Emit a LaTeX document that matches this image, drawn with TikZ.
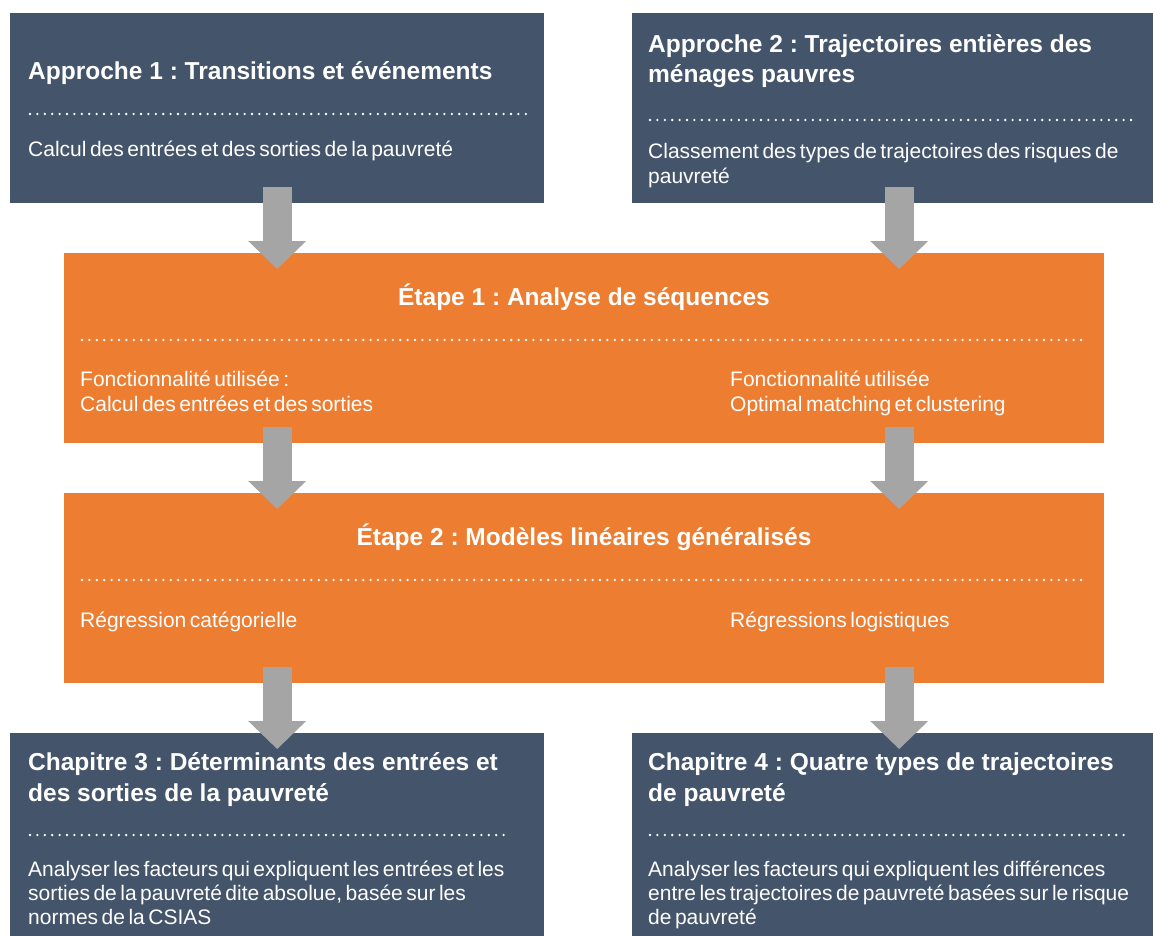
\documentclass[tikz,border=0pt]{standalone}
\usepackage{fontspec}
\setmainfont{Liberation Sans}
\newfontfamily\corpsfont{Liberation Sans}[WordSpace=0.6]
\usetikzlibrary{arrows.meta}
\usetikzlibrary{calc,positioning}
\definecolor{ardoise}{HTML}{44546A}
\definecolor{orangeetape}{HTML}{ED7D31}
\definecolor{gris}{HTML}{A5A5A5}
\frenchspacing

\begin{document}
\begin{tikzpicture}[x=1pt, y=-1pt,
	caja/.style={fill=ardoise, anchor=north west, minimum width=534pt, minimum height=190pt, inner sep=0pt},
	etape/.style={fill=orangeetape, anchor=north west, minimum width=1040pt, minimum height=190pt, inner sep=0pt},
	titre/.style={text=white, anchor=base west, inner sep=0pt, font=\bfseries\fontsize{24.5}{30}\selectfont},
	corps/.style={text=white, anchor=base west, inner sep=0pt, font=\corpsfont\fontsize{21}{24}\selectfont},
	points/.style={white, line width=2.6pt, line cap=round, dash pattern=on 0pt off 7.4pt},
	fleche/.style={gris, line width=29pt, -{Triangle[width=58pt,length=28pt,line width=0pt]}}]

	\useasboundingbox (0,0) rectangle (1153,936);
	\clip (0,0) rectangle (1153,936);

% approche 1
	\node[caja] (ap1) at (10,13) {};
	\node[titre] (ap1t) at (28,80) {Approche 1 : Transitions et événements};
	\draw[points] (30,114) -- (530,114);
	\node[corps] (ap1c) at (28,157) {Calcul des entrées et des sorties de la pauvreté};

% approche 2
	\node[caja] (ap2) at (632,13) {};
	\foreach \t [count=\i from 0] in {Approche 2 : Trajectoires entières des, ménages pauvres}
		\node[titre] (ap2t\i) at (648,53+30*\i) {\t};
	\draw[points] (650,120) -- (1137,120);
	\foreach \t [count=\i from 0] in {Classement des types de trajectoires des risques de, pauvreté}
		\node[corps] (ap2c\i) at (648,159+25*\i) {\t};

% etape 1
	\node[etape] (e1) at (64,253) {};
	\node[titre, anchor=base] (e1t) at (584,305) {Étape 1 : Analyse de séquences};
	\draw[points] (82,340) -- (1088,340);
	\foreach \t [count=\i from 0] in {Fonctionnalité utilisée :, Calcul des entrées et des sorties}
		\node[corps] (e1g\i) at (80,386+25*\i) {\t};
	\foreach \t [count=\i from 0] in {Fonctionnalité utilisée, Optimal matching et clustering}
		\node[corps] (e1d\i) at (730,386+25*\i) {\t};

% etape 2
	\node[etape] (e2) at (64,493) {};
	\node[titre, anchor=base] (e2t) at (584,545) {Étape 2 : Modèles linéaires généralisés};
	\draw[points] (82,580) -- (1088,580);
	\node[corps] (e2g) at (80,627) {Régression catégorielle};
	\node[corps] (e2d) at (730,627) {Régressions logistiques};

% chapitre 3
	\node[caja, minimum height=215pt] (ch3) at (10,733) {};
	\foreach \t [count=\i from 0] in {Chapitre 3 : Déterminants des entrées et, des sorties de la pauvreté}
		\node[titre] (ch3t\i) at (28,770+31*\i) {\t};
	\draw[points] (30,835) -- (505,835);
	\foreach \t [count=\i from 0] in {Analyser les facteurs qui expliquent les entrées et les, {sorties de la pauvreté dite absolue, basée sur les}, normes de la CSIAS}
		\node[corps] (ch3c\i) at (28,876+24*\i) {\t};

% chapitre 4
	\node[caja, minimum height=215pt] (ch4) at (632,733) {};
	\foreach \t [count=\i from 0] in {Chapitre 4 : Quatre types de trajectoires, de pauvreté}
		\node[titre] (ch4t\i) at (648,770+31*\i) {\t};
	\draw[points] (650,835) -- (1127,835);
	\foreach \t [count=\i from 0] in {Analyser les facteurs qui expliquent les différences, entre les trajectoires de pauvreté basées sur le risque, de pauvreté}
		\node[corps] (ch4c\i) at (648,876+24*\i) {\t};

% fleches
	\draw[fleche] ([yshift=16pt]ap1.south) -- ([yshift=-16pt]ap1.south |- e1.north);
	\draw[fleche] ([yshift=16pt]ap2.south) -- ([yshift=-16pt]ap2.south |- e1.north);
	\draw[fleche] ([yshift=16pt]ap1.south |- e1.south) -- ([yshift=-16pt]ap1.south |- e2.north);
	\draw[fleche] ([yshift=16pt]ap2.south |- e1.south) -- ([yshift=-16pt]ap2.south |- e2.north);
	\draw[fleche] ([yshift=16pt]ap1.south |- e2.south) -- ([yshift=-16pt]ch3.north);
	\draw[fleche] ([yshift=16pt]ap2.south |- e2.south) -- ([yshift=-16pt]ch4.north);
\end{tikzpicture}
\end{document}
